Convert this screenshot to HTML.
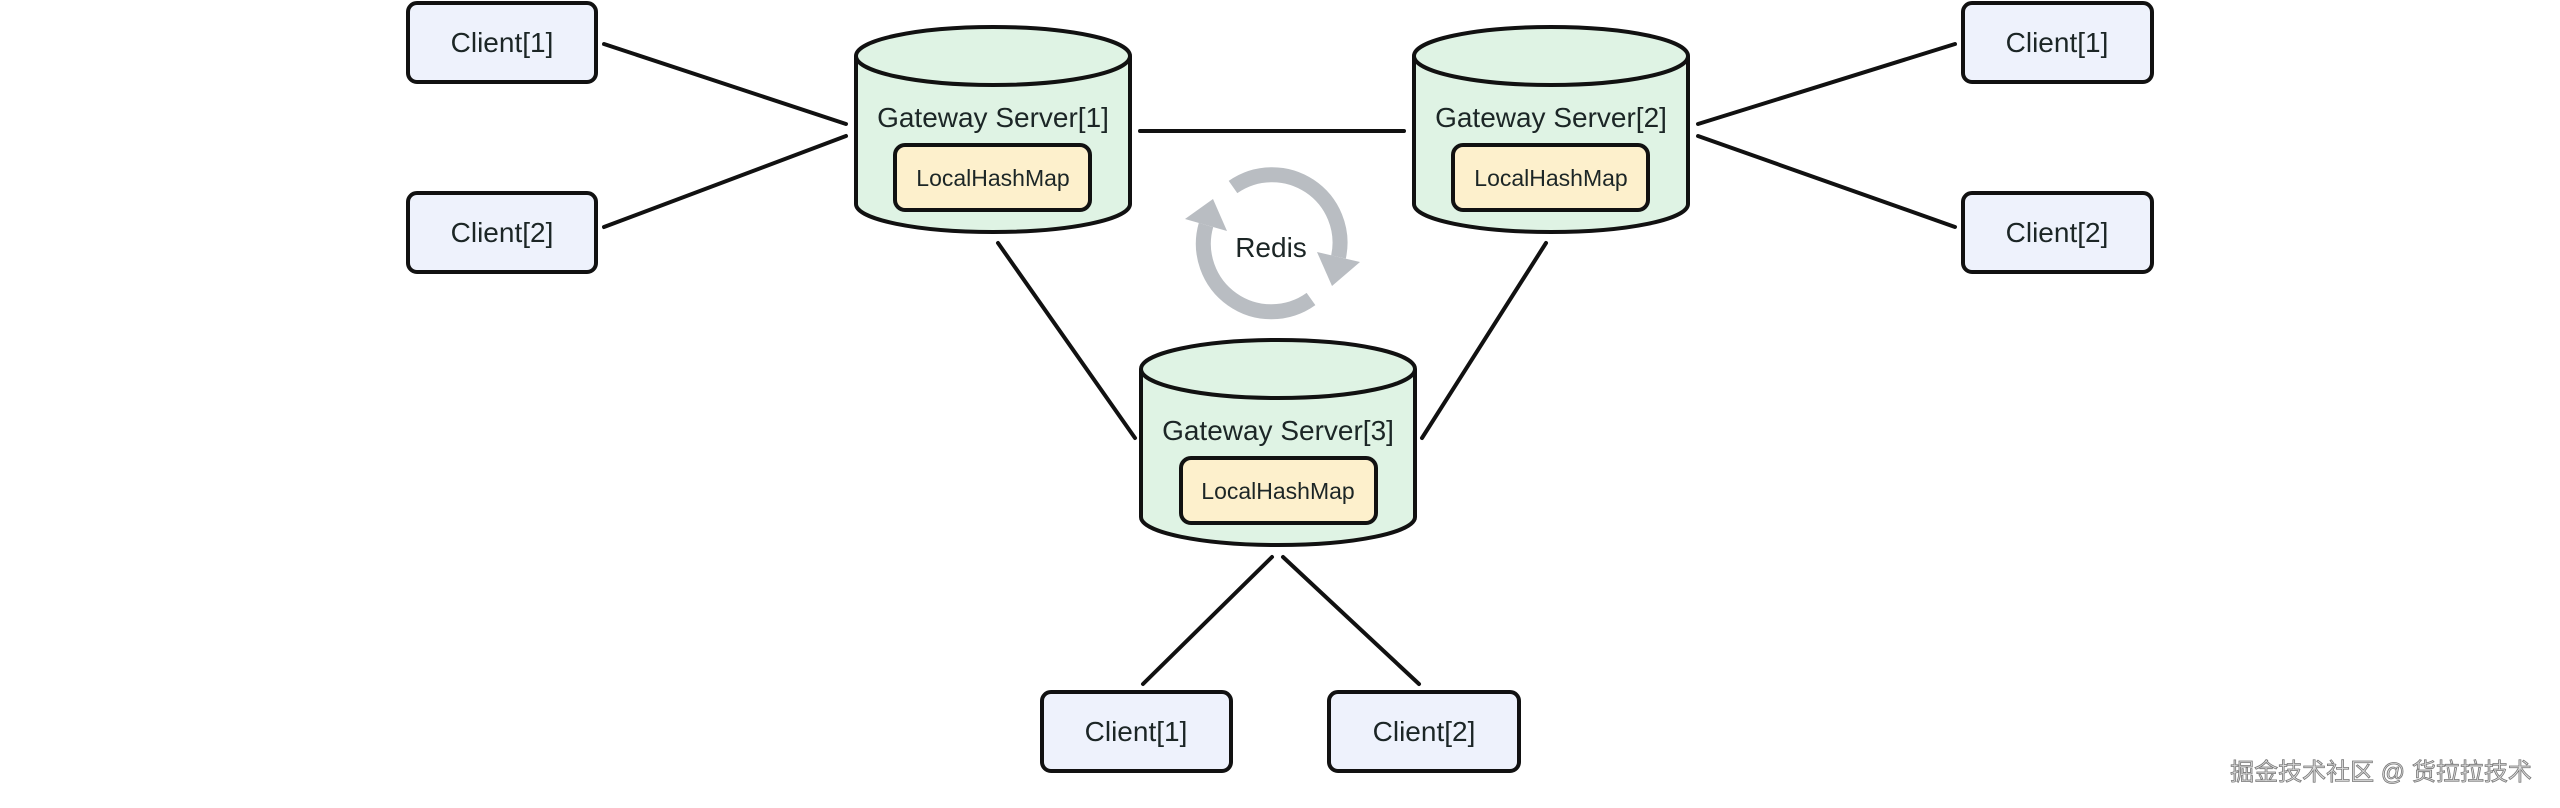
<!DOCTYPE html>
<html><head><meta charset="utf-8"><style>
html,body{margin:0;padding:0;background:#fff;}
svg{display:block;}
text{font-family:"Liberation Sans","Noto Sans CJK SC",sans-serif;fill:#1c2626;}
</style></head><body>
<svg width="2560" height="808" viewBox="0 0 2560 808" xmlns="http://www.w3.org/2000/svg">
<g stroke="#111" stroke-width="4" fill="none" stroke-linecap="round">
<line x1="604" y1="44" x2="846" y2="124"/>
<line x1="604" y1="227" x2="846" y2="136"/>
<line x1="1140" y1="131" x2="1404" y2="131"/>
<line x1="1698" y1="124" x2="1955" y2="44"/>
<line x1="1698" y1="136" x2="1955" y2="227"/>
<line x1="998" y1="243" x2="1135" y2="438"/>
<line x1="1546" y1="243" x2="1422" y2="438"/>
<line x1="1272" y1="557" x2="1143" y2="684"/>
<line x1="1283" y1="557" x2="1419" y2="684"/>
</g>
<defs>
<g id="cyl">
<path d="M0,30 L0,178 A137 28 0 0 0 274,178 L274,30 A137 29 0 0 0 0,30 Z" fill="#dff3e4" stroke="#111" stroke-width="4"/>
<path d="M0,30 A137 29 0 0 0 274,30" fill="none" stroke="#111" stroke-width="4"/>
</g>
</defs>
<!-- Clients -->
<g fill="#eef2fc" stroke="#111" stroke-width="4">
<rect x="408" y="3" width="188" height="79" rx="9"/>
<rect x="408" y="193" width="188" height="79" rx="9"/>
<rect x="1963" y="3" width="189" height="79" rx="9"/>
<rect x="1963" y="193" width="189" height="79" rx="9"/>
<rect x="1042" y="692" width="189" height="79" rx="9"/>
<rect x="1329" y="692" width="190" height="79" rx="9"/>
</g>
<g font-size="28" text-anchor="middle">
<text x="502" y="52">Client[1]</text>
<text x="502" y="242">Client[2]</text>
<text x="2057" y="52">Client[1]</text>
<text x="2057" y="242">Client[2]</text>
<text x="1136" y="741">Client[1]</text>
<text x="1424" y="741">Client[2]</text>
</g>
<!-- Cylinders -->
<use href="#cyl" x="856" y="26"/>
<use href="#cyl" x="1414" y="26"/>
<use href="#cyl" x="1141" y="339"/>
<g fill="#fdf0cc" stroke="#111" stroke-width="4">
<rect x="895" y="145" width="195" height="65" rx="10"/>
<rect x="1453" y="145" width="195" height="65" rx="10"/>
<rect x="1181" y="458" width="195" height="65" rx="10"/>
</g>
<g font-size="28" text-anchor="middle">
<text x="993" y="127">Gateway Server[1]</text>
<text x="1551" y="127">Gateway Server[2]</text>
<text x="1278" y="440">Gateway Server[3]</text>
</g>
<g font-size="23" text-anchor="middle">
<text x="993" y="186">LocalHashMap</text>
<text x="1551" y="186">LocalHashMap</text>
<text x="1278" y="499">LocalHashMap</text>
</g>
<!-- Redis -->
<g stroke="#b9bdc2" stroke-width="15" fill="none">
<path d="M1233,187 A68 68 0 0 1 1338.5,257"/>
<path d="M1311,299 A68 68 0 0 1 1206,225"/>
</g>
<g fill="#b9bdc2">
<polygon points="1360,262 1317,252 1332,286"/>
<polygon points="1227,231 1185,219 1213,199"/>
</g>
<text x="1271" y="257" font-size="28" text-anchor="middle">Redis</text>
<!-- watermark -->
<text x="2381" y="780" font-size="24" text-anchor="middle" style="fill:#ddd;stroke:#777;stroke-width:0.8px">掘金技术社区 @ 货拉拉技术</text>
</svg>
</body></html>
